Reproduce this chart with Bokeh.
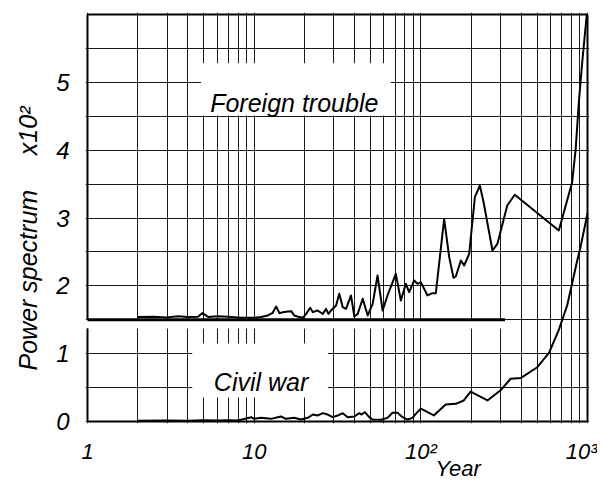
import math
from bokeh.plotting import figure
from bokeh.models import FixedTicker, Label, Range1d, Title
from bokeh.embed import file_html
from bokeh.resources import INLINE

# ---------------- data ----------------
foreign_period = [2, 2.5, 3, 3.5, 4, 4.6, 4.9, 5.3, 6, 7, 8.36, 10.0, 11.0, 12.08, 12.9,
                  13.55, 14.18, 14.9, 15.9, 16.7, 17.4, 18.4, 19.6, 20.5, 21.7, 22.5,
                  24.0, 25.8, 27.0, 27.9, 28.9, 31.0, 32.4, 34.0, 35.6, 38.1, 39.9,
                  41.8, 44.8, 48.0, 51.4, 55.0, 59.0, 63.1, 70.8, 75.9, 81.3, 85.1,
                  91.2, 95.5, 100, 109.6, 117.5, 123, 138, 148, 157, 162, 174, 182,
                  195, 211, 226, 239, 269, 288, 330, 366, 673, 809, 848, 890, 930, 990]
foreign_power = [1.54, 1.545, 1.535, 1.55, 1.54, 1.545, 1.6, 1.54, 1.55, 1.545, 1.53, 1.53,
                 1.54, 1.563, 1.60, 1.695, 1.597, 1.612, 1.622, 1.627, 1.563, 1.545,
                 1.529, 1.587, 1.676, 1.612, 1.636, 1.587, 1.661, 1.587, 1.636, 1.710,
                 1.882, 1.686, 1.661, 1.858, 1.548, 1.587, 1.809, 1.563, 1.735, 2.152,
                 1.636, 1.858, 2.177, 1.784, 2.03, 1.907, 2.079, 2.03, 2.054, 1.858,
                 1.892, 1.892, 2.988, 2.423, 2.118, 2.138, 2.374, 2.30, 2.472, 3.307,
                 3.479, 3.209, 2.521, 2.619, 3.184, 3.342, 2.816, 3.528, 4.0, 4.75,
                 5.3, 6.0]

civil_period = [2, 3, 4, 5, 6, 7, 8, 9.6, 10, 11.0, 12.6, 14.5, 15.5, 17.4, 19.1, 21.0,
                22.5, 24.0, 25.8, 27.6, 29.6, 31.7, 34.0, 36.4, 39.9, 42.7, 44.1, 46.2,
                49.0, 51.4, 57.6, 63.1, 67.6, 72.5, 77.7, 83.2, 89.1, 93.3, 100, 119.6,
                141, 162, 181, 199, 251, 301, 346, 397, 500, 587, 670, 755, 791, 867,
                908, 1000]
civil_power = [0.01, 0.015, 0.01, 0.02, 0.015, 0.02, 0.015, 0.064, 0.039, 0.054, 0.039,
               0.074, 0.039, 0.054, 0.029, 0.054, 0.103, 0.088, 0.123, 0.103, 0.064,
               0.088, 0.123, 0.064, 0.074, 0.123, 0.103, 0.138, 0.064, 0.029, 0.025,
               0.054, 0.128, 0.128, 0.064, 0.029, 0.054, 0.113, 0.19, 0.09, 0.25, 0.26,
               0.31, 0.44, 0.31, 0.46, 0.63, 0.64, 0.80, 1.01, 1.34, 1.71, 1.93, 2.37,
               2.57, 3.07]

x_ticks = [1, 10, 100, 1000]
x_tick_labels = ["1", "10", "10\u00b2", "10\u00b3"]
x_minor = [m * 10 ** k for k in range(3) for m in range(2, 10)]
y_ticks = [0, 1, 2, 3, 4, 5]
y_minor = [0.5, 1.5, 2.5, 3.5, 4.5, 5.5]

x_title = "Year"
y_title = "Power spectrum\u00a0\u00a0\u00a0\u00a0\u00a0x10\u00b2"

FONT = "Liberation Sans"

# ---------------- layout constants ----------------
X0, X1 = 1, 1000
Y0, Y1 = 0, 6
LOWER_TOP = 1.37      # top of civil-war panel
UPPER_BOT = 1.5       # bottom of foreign-trouble panel
THICK_END = 320       # thick separator ends here
pad_x = 10 ** (2 * 3 / 501)
pad_y = 2 * 6 / 407

p = figure(width=597, height=484, x_axis_type="log",
           x_range=Range1d(X0 / pad_x, X1 * pad_x),
           y_range=Range1d(Y0 - pad_y, Y1 + pad_y),
           output_backend="svg", toolbar_location=None,
           min_border_left=84, min_border_right=8,
           min_border_top=12, min_border_bottom=61)
p.outline_line_color = None
p.background_fill_color = "white"
p.border_fill_color = "white"

p.xaxis.ticker = FixedTicker(ticks=x_ticks, minor_ticks=x_minor)
p.yaxis.ticker = FixedTicker(ticks=y_ticks, minor_ticks=y_minor)
p.xaxis.major_label_overrides = {t: s for t, s in zip(x_ticks, x_tick_labels)}
p.yaxis.major_label_overrides = {t: str(t) for t in y_ticks}

for ax, size, stand in ((p.xaxis, "22px", 15), (p.yaxis, "24px", 16)):
    ax.axis_line_color = None
    ax.major_tick_line_color = None
    ax.minor_tick_line_color = None
    ax.major_tick_out = 0
    ax.major_tick_in = 0
    ax.minor_tick_out = 0
    ax.minor_tick_in = 0
    ax.major_label_text_font = FONT
    ax.major_label_text_font_style = "italic"
    ax.major_label_text_font_size = size
    ax.major_label_text_color = "black"
    ax.major_label_standoff = stand

for g in (p.xgrid, p.ygrid):
    g.grid_line_color = "black"
    g.grid_line_width = 1
    g.grid_line_alpha = 0.9
    g.minor_grid_line_color = "black"
    g.minor_grid_line_width = 1
    g.minor_grid_line_alpha = 0.9

# axis titles placed as side titles
title_style = dict(text_font=FONT, text_font_style="italic", text_color="black")
p.add_layout(Title(text=x_title, align="left", offset=350, standoff=-28,
                   text_font_size="22px", **title_style), "below")
p.add_layout(Title(text=y_title, align="left", offset=53, standoff=23,
                   text_font_size="25px", **title_style), "left")

# white masks: label boxes and panel gap
p.quad(left=[4.8, 4.25, X0 / pad_x], right=[66, 27.7, 310],
       bottom=[4.51, 0.354, LOWER_TOP], top=[5.28, 1.15, UPPER_BOT],
       fill_color="white", line_color=None)

# curves
p.line(foreign_period, foreign_power, line_color="black", line_width=2, line_join="round")
p.line(civil_period, civil_power, line_color="black", line_width=2, line_join="round")

# panel borders
p.segment(x0=[X0, X0, X0, X1, X0, X0], y0=[Y1, UPPER_BOT, Y0, Y0, Y0, UPPER_BOT],
          x1=[X1, X0, X0, X1, X1, THICK_END], y1=[Y1, Y1, LOWER_TOP, Y1, Y0, UPPER_BOT],
          line_color="black", line_width=[2, 2, 2, 2, 2, 3])

common = dict(text_font=FONT, text_font_style="italic", text_color="black")
p.add_layout(Label(x=17.4, y=4.70, text="Foreign trouble", text_font_size="25px",
                   text_align="center", text_baseline="alphabetic", **common))
p.add_layout(Label(x=11.0, y=0.575, text="Civil war", text_font_size="25px",
                   text_align="center", text_baseline="alphabetic", **common))

open("out.html", "w").write(file_html(p, INLINE))
